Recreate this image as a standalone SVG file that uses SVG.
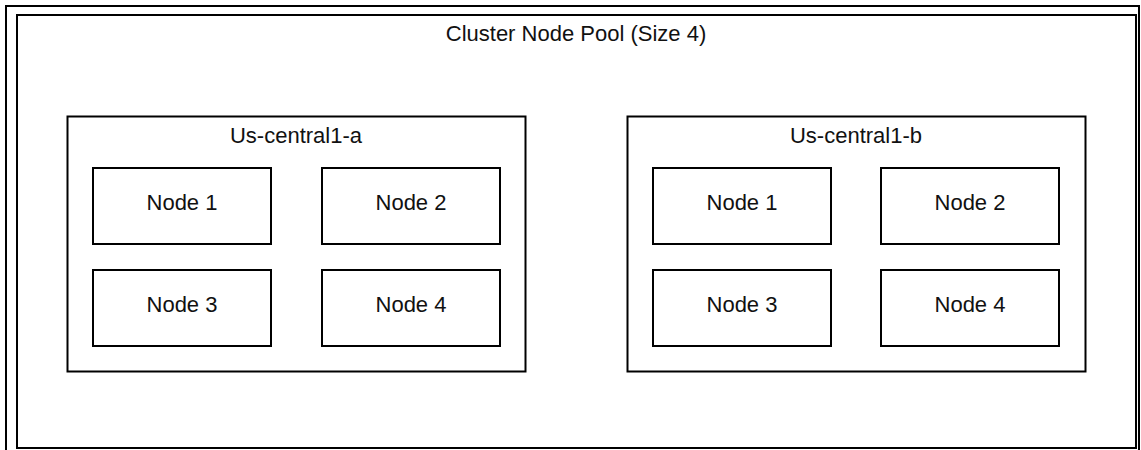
<svg xmlns="http://www.w3.org/2000/svg" width="1141" height="450" viewBox="0 0 1141 450">
<style>
.box{fill:#fff;stroke:#000;stroke-width:2}
.t{font-family:"Liberation Sans",Arial,sans-serif;font-size:22px;fill:#111;text-anchor:middle}
</style>
<rect width="1141" height="450" fill="#fff"/>
<rect x="6" y="6" width="1133" height="460" fill="none" stroke="#000" stroke-width="2"/>
<g id="pool">
<rect class="box" x="17" y="15" width="1119" height="433"/>
<text class="t" x="576" y="41">Cluster Node Pool (Size 4)</text>
</g>
<g id="zone-a">
<rect class="box" x="67.5" y="116.5" width="458" height="255"/>
<text class="t" x="296" y="143">Us-central1-a</text>
</g>
<g id="a-node1"><rect class="box" x="93" y="168" width="178" height="76"/><text class="t" x="182" y="210">Node 1</text></g>
<g id="a-node2"><rect class="box" x="322" y="168" width="178" height="76"/><text class="t" x="411" y="210">Node 2</text></g>
<g id="a-node3"><rect class="box" x="93" y="270" width="178" height="76"/><text class="t" x="182" y="312">Node 3</text></g>
<g id="a-node4"><rect class="box" x="322" y="270" width="178" height="76"/><text class="t" x="411" y="312">Node 4</text></g>
<g id="zone-b">
<rect class="box" x="627.5" y="116.5" width="458" height="255"/>
<text class="t" x="856" y="143">Us-central1-b</text>
</g>
<g id="b-node1"><rect class="box" x="653" y="168" width="178" height="76"/><text class="t" x="742" y="210">Node 1</text></g>
<g id="b-node2"><rect class="box" x="881" y="168" width="178" height="76"/><text class="t" x="970" y="210">Node 2</text></g>
<g id="b-node3"><rect class="box" x="653" y="270" width="178" height="76"/><text class="t" x="742" y="312">Node 3</text></g>
<g id="b-node4"><rect class="box" x="881" y="270" width="178" height="76"/><text class="t" x="970" y="312">Node 4</text></g>
<g id="connectors"></g>
</svg>
